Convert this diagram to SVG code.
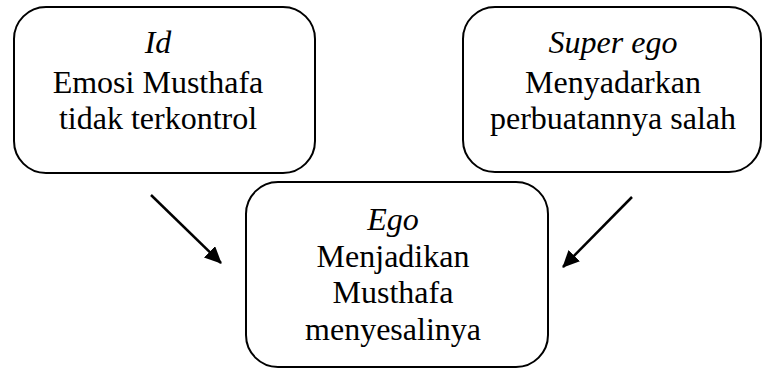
<svg xmlns="http://www.w3.org/2000/svg" width="763" height="369" viewBox="0 0 763 369">
  <style>
    .box { fill: #fff; stroke: #000; stroke-width: 2; }
    .txt { font-family: 'Liberation Serif', 'Times New Roman', serif; font-size: 32px; fill: #000; text-anchor: middle; }
    .it { font-style: italic; }
    .conn { stroke: #000; stroke-width: 2.5; fill: none; marker-end: url(#arrow); }
  </style>
  <defs>
    <marker id="arrow" markerWidth="20" markerHeight="20" refX="16" refY="8" orient="auto" markerUnits="userSpaceOnUse">
      <path d="M0,0 L17,8 L0,16 Z" fill="#000"/>
    </marker>
  </defs>
  <rect width="763" height="369" fill="#fff"/>

  <g id="node-id">
    <rect class="box" x="14" y="7" width="301" height="166" rx="32" ry="32"/>
    <text class="txt it" x="158" y="53">Id</text>
    <text class="txt" x="158" y="93">Emosi Musthafa</text>
    <text class="txt" x="158" y="129">tidak terkontrol</text>
  </g>

  <g id="node-superego">
    <rect class="box" x="463" y="7" width="298" height="165" rx="32" ry="32"/>
    <text class="txt it" x="613" y="53">Super ego</text>
    <text class="txt" x="613" y="93">Menyadarkan</text>
    <text class="txt" x="613" y="129">perbuatannya salah</text>
  </g>

  <g id="node-ego">
    <rect class="box" x="246" y="182" width="302" height="185" rx="32" ry="32"/>
    <text class="txt it" x="393" y="230">Ego</text>
    <text class="txt" x="393" y="267">Menjadikan</text>
    <text class="txt" x="393" y="303">Musthafa</text>
    <text class="txt" x="393" y="340">menyesalinya</text>
  </g>

  <g id="connectors">
    <line class="conn" x1="151" y1="195" x2="221" y2="263"/>
    <line class="conn" x1="632" y1="197" x2="563" y2="267"/>
  </g>
</svg>
